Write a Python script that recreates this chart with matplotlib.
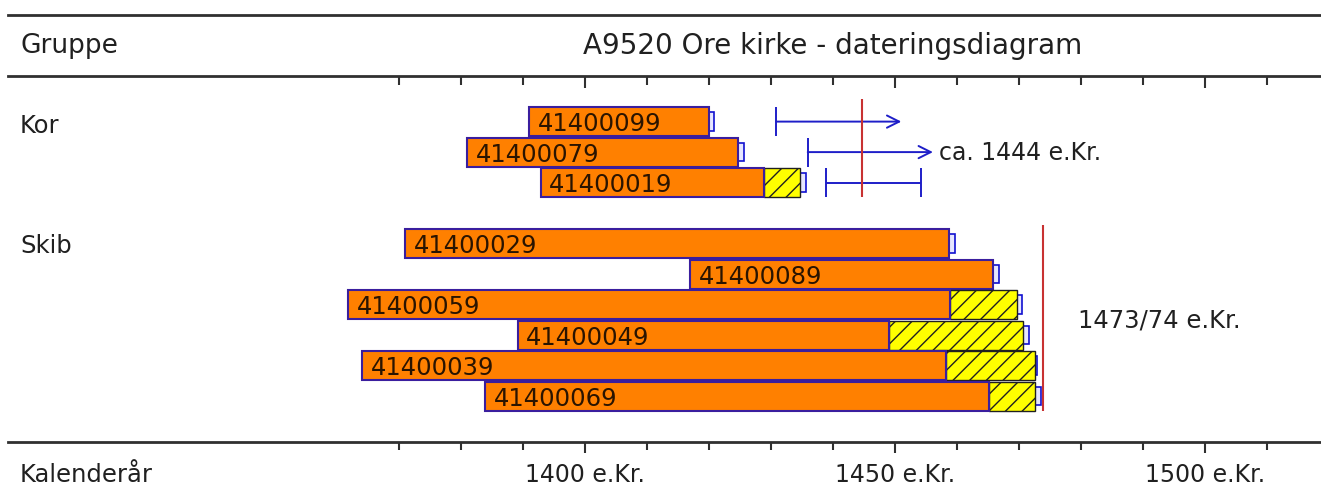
import matplotlib.pyplot as plt
from matplotlib.transforms import blended_transform_factory

# ---- data (years AD) ----
kor_ids = ["41400099", "41400079", "41400019"]
kor_start = [1391.0, 1380.9, 1392.8]
kor_heart_end = [1419.9, 1424.7, 1428.9]
kor_sap_end = [1419.9, 1424.7, 1434.7]
kor_last = [1420.8, 1425.7, 1435.7]

kor_range_start = [1430.8, 1435.9, 1438.9]
kor_range_end = [1451.0, 1456.1, 1454.1]
kor_range_open = [True, True, False]
kor_felling = 1444.7
kor_label = "ca. 1444 e.Kr."

skib_ids = ["41400029", "41400089", "41400059", "41400049", "41400039", "41400069"]
skib_start = [1370.9, 1416.9, 1361.8, 1389.1, 1364.0, 1383.8]
skib_heart_end = [1458.7, 1465.8, 1458.9, 1449.0, 1458.2, 1465.2]
skib_sap_end = [1458.7, 1465.8, 1469.6, 1470.6, 1472.5, 1472.5]
skib_last = [1459.6, 1466.8, 1470.5, 1471.6, 1472.9, 1473.6]
skib_felling = 1473.8
skib_label = "1473/74 e.Kr."

tick_years = list(range(1370, 1511, 10))
major_years = [1400, 1450, 1500]

title = "A9520 Ore kirke - dateringsdiagram"

# ---- layout ----
ORANGE = "#FF8000"
EDGE = "#3A1E9E"
BLUE = "#1E1EC8"
RED = "#C83232"
LINE = "#303030"
TXT = "#202020"
FONT = "DejaVu Sans"

fig = plt.figure(figsize=(13.21, 5.02), dpi=100)
ax = fig.add_axes([0, 0, 1, 1])
ax.axis("off")
# x: years; y: row units (row spacing ~30.5 px)
ax.set_xlim(1305.6, 1518.7)
ax.set_ylim(12.44, -4.02)
lt = blended_transform_factory(ax.transAxes, ax.transData)

bh = 0.95
sh = 0.6


def draw_group(rows, ids, start, heart, sap, last):
    for r, name, s, h, sp, l in zip(rows, ids, start, heart, sap, last):
        if l > sp:
            ax.barh(r, l - sp, left=sp, height=sh, color="#E6E6FF",
                    edgecolor="#1010D0", linewidth=1.2, zorder=2)
        if sp > h:
            ax.barh(r, sp - h, left=h, height=bh, color="#FFFF00",
                    edgecolor="#202020", hatch="//", linewidth=1.0, zorder=3)
        ax.barh(r, h - s, left=s, height=bh, color=ORANGE,
                edgecolor=EDGE, linewidth=1.5, zorder=3)
        ax.text(s + 1.4, r + 0.05, name, fontsize=17.5, family=FONT,
                color="#2A1400", va="center", ha="left", zorder=4)


kor_rows = [0, 1, 2]
skib_rows = [4, 5, 6, 7, 8, 9]
draw_group(kor_rows, kor_ids, kor_start, kor_heart_end, kor_sap_end, kor_last)
draw_group(skib_rows, skib_ids, skib_start, skib_heart_end, skib_sap_end, skib_last)

# dating ranges for Kor
for r, s, e, op in zip(kor_rows, kor_range_start, kor_range_end, kor_range_open):
    ax.vlines(s, r - bh / 2, r + bh / 2, color=BLUE, lw=1.4, zorder=5)
    if op:
        ax.annotate("", xy=(e, r), xytext=(s, r),
                    arrowprops=dict(arrowstyle="->", color=BLUE, lw=1.4,
                                    mutation_scale=22, shrinkA=0, shrinkB=0),
                    zorder=5)
    else:
        ax.hlines(r, s, e, color=BLUE, lw=1.4, zorder=5)
        ax.vlines(e, r - bh / 2, r + bh / 2, color=BLUE, lw=1.4, zorder=5)

ax.vlines(kor_felling, kor_rows[0] - 0.74, kor_rows[-1] + 0.48, color=RED, lw=1.5, zorder=6)
ax.text(kor_range_end[1] + 1.0, kor_rows[1], kor_label, fontsize=17, family=FONT,
        va="center", ha="left", color=TXT)

ax.vlines(skib_felling, skib_rows[0] - 0.61, skib_rows[-1] + 0.48, color=RED, lw=1.5, zorder=6)
ax.text(1479.5, (skib_rows[2] + skib_rows[3]) / 2, skib_label, fontsize=17.5, family=FONT,
        va="center", ha="left", color=TXT)

# header / footer rules
x0 = 8 / 1321
for yl in (-3.5, -1.48, 10.51):
    ax.axhline(yl, xmin=x0, xmax=1, color=LINE, lw=2.0)

for yr in tick_years:
    ln = 0.37 if yr in major_years else 0.27
    ax.vlines(yr, -1.48, -1.48 + ln, color=LINE, lw=1.5)
    ax.vlines(yr, 10.51, 10.51 + ln, color=LINE, lw=1.5)
    if yr in major_years:
        ax.text(yr, 11.57, f"{yr} e.Kr.", fontsize=17, family=FONT,
                ha="center", va="center", color=TXT)

ax.text(20 / 1321, -2.5, "Gruppe", transform=lt, fontsize=19, family=FONT,
        ha="left", va="center", color=TXT)
ax.text(583 / 1321, -2.5, title, transform=lt, fontsize=20, family=FONT,
        ha="left", va="center", color=TXT)
ax.text(20 / 1321, 11.57, "Kalenderår", transform=lt, fontsize=17.5, family=FONT,
        ha="left", va="center", color=TXT)
ax.text(20 / 1321, 0.12, "Kor", transform=lt, fontsize=17.5, family=FONT,
        ha="left", va="center", color=TXT)
ax.text(20 / 1321, 4.06, "Skib", transform=lt, fontsize=17.5, family=FONT,
        ha="left", va="center", color=TXT)

fig.savefig("out.png", dpi=100)
